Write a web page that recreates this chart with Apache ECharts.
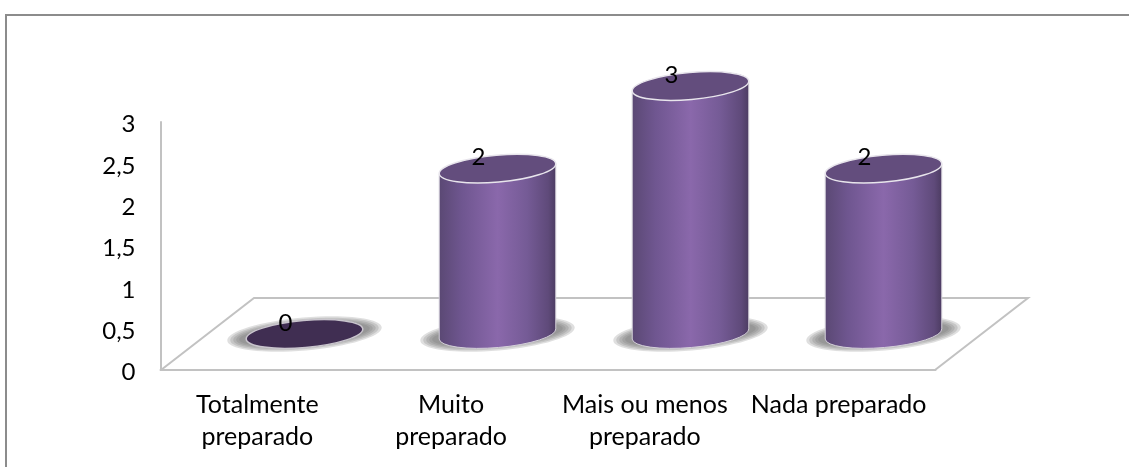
<!DOCTYPE html>
<html><head><meta charset="utf-8">
<style>html,body{margin:0;padding:0;background:#fff}#c{width:1129px;height:467px}</style>
<script src="https://cdn.jsdelivr.net/npm/echarts@6/dist/echarts.min.js"></script>
</head><body><div id="c"></div>
<script>
const categories = ['Totalmente\npreparado', 'Muito\npreparado', 'Mais ou menos\npreparado', 'Nada preparado'];
const values = [0, 2, 3, 2];
const yTicks = { min: 0, max: 3, interval: 0.5 };

const FONT = 'Lato';
const FONT_SIZE = 24;
const X_FONT_SIZE = 25;
const LINE = '#c2c2c2';
const RX = 58.5, RY = 13.5, TILT = 5 * Math.PI / 180;
const SHADOW_STEPS = [[19, 16.5], [16, 15], [13, 13.5], [10, 12], [7, 10.5]];

const bodyFill = {
  type: 'linear', x: 0, y: 0, x2: 1, y2: 0,
  colorStops: [
    { offset: 0, color: '#5a4873' }, { offset: 0.2, color: '#6f5690' },
    { offset: 0.5, color: '#8a68ab' }, { offset: 0.75, color: '#755b96' },
    { offset: 0.93, color: '#5f4a7a' }, { offset: 1, color: '#4b3b60' }
  ]
};

function renderCylinder(params, api) {
  const cat = api.value(0), val = api.value(1);
  const base = api.coord([cat, 0]);
  const top = api.coord([cat, val]);
  const dx = RX * Math.cos(TILT), dy = RX * Math.sin(TILT);
  const deg = TILT * 180 / Math.PI;
  const children = [];
  const ell = (c, rx, ry, style) => ({
    type: 'ellipse', x: c[0], y: c[1], rotation: TILT,
    shape: { cx: 0, cy: 0, rx, ry }, style
  });
  SHADOW_STEPS.forEach(s => {
    children.push(ell(base, RX + s[0], s[1], { fill: 'rgba(110,110,110,0.22)' }));
  });
  if (val > 0) {
    const d = `M${base[0]-dx} ${top[1]+dy} L${base[0]-dx} ${base[1]+dy}` +
      ` A${RX} ${RY} ${-deg} 0 0 ${base[0]+dx} ${base[1]-dy}` +
      ` L${base[0]+dx} ${top[1]-dy} Z`;
    children.push({ type: 'path', shape: { pathData: d },
      style: { fill: bodyFill, stroke: '#d5d1da', lineWidth: 1 } });
  }
  children.push(ell(top, RX, RY, {
    fill: val > 0 ? '#634d7d' : '#402e52',
    stroke: val > 0 ? '#e8e5ec' : '#c9c5cd', lineWidth: 1.5
  }));
  children.push({ type: 'text', x: base[0] - 19, y: top[1] - 11, z2: 10,
    style: { text: String(val), font: `${FONT_SIZE}px ${FONT}`, fill: '#000',
      align: 'center', verticalAlign: 'middle' } });
  return { type: 'group', children };
}

const chart = echarts.init(document.getElementById('c'), null, { renderer: 'canvas' });
chart.setOption({
  animation: false,
  backgroundColor: '#fff',
  graphic: [
    { type: 'polyline', silent: true, z: 0,
      shape: { points: [[6, 467], [6, 15], [1129, 15]] },
      style: { stroke: '#8c8c8c', lineWidth: 2, fill: null } },
    { type: 'polyline', silent: true, z: 0,
      shape: { points: [[161, 370], [254, 298], [1028, 298], [935, 370]] },
      style: { stroke: LINE, lineWidth: 2, fill: null } }
  ],
  grid: [
    { left: 160.5, top: 122, width: 775, height: 248 },
    { left: 208, top: 86, width: 772, height: 248 },
    { left: 160.5, top: 124.5, width: 775, height: 248 }
  ],
  xAxis: [
    { type: 'category', gridIndex: 0, data: categories,
      axisLine: { lineStyle: { color: LINE, width: 2 } }, axisTick: { show: false },
      axisLabel: { interval: 0, color: '#000', fontFamily: FONT, fontSize: X_FONT_SIZE, lineHeight: 32, margin: 19 } },
    { type: 'category', gridIndex: 1, data: categories, show: false },
    { type: 'category', gridIndex: 2, data: categories, show: false }
  ],
  yAxis: [
    { type: 'value', gridIndex: 0, ...yTicks,
      axisLine: { show: true, lineStyle: { color: LINE, width: 2 } },
      axisTick: { show: false }, splitLine: { show: false }, axisLabel: { show: false } },
    { type: 'value', gridIndex: 1, ...yTicks, show: false, splitLine: { show: false } },
    { type: 'value', gridIndex: 2, ...yTicks,
      axisLine: { show: false }, axisTick: { show: false }, splitLine: { show: false },
      axisLabel: { color: '#000', fontFamily: FONT, fontSize: FONT_SIZE, margin: 25,
        formatter: v => String(v).replace('.', ',') } }
  ],
  series: [{
    type: 'custom', xAxisIndex: 1, yAxisIndex: 1,
    renderItem: renderCylinder,
    encode: { x: 0, y: 1 },
    data: values.map((v, i) => [i, v])
  }]
});
</script></body></html>
